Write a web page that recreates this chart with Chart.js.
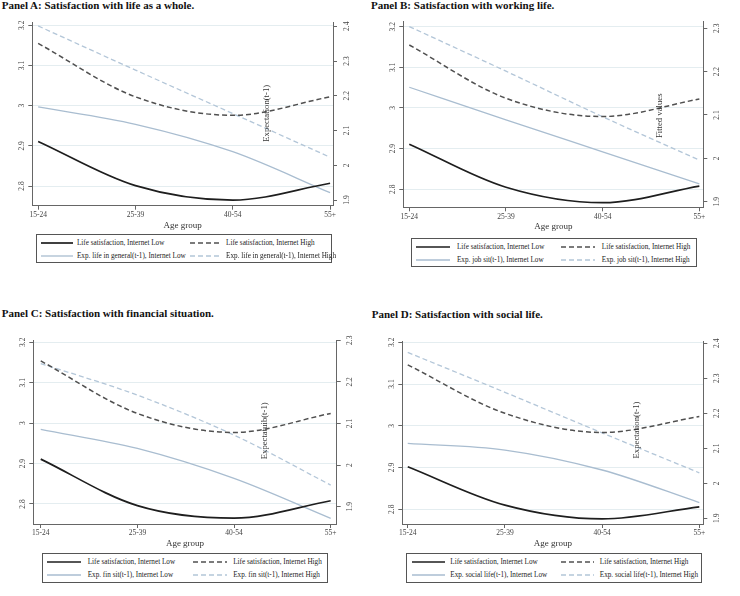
<!DOCTYPE html>
<html>
<head>
<meta charset="utf-8">
<script src="https://cdn.jsdelivr.net/npm/chart.js@4.4.1/dist/chart.umd.min.js"></script>
<style>
  body { margin: 0; background: #fff; width: 740px; height: 596px; position: relative; overflow: hidden;
         font-family: 'Liberation Serif', 'DejaVu Serif', serif; }
  .panel { position: absolute; width: 370px; height: 296px; }
  .panel canvas { position: absolute; left: 0; top: 0; }
  .ttl { position: absolute; font-weight: bold; font-size: 11px; line-height: 11px; white-space: nowrap; color: #111; }
  .lg { position: absolute; border: 1px solid #555; box-sizing: border-box; background: #fff; }
  .lg .it { position: absolute; height: 12px; line-height: 12px; font-size: 7.2px; color: #222; white-space: nowrap; }
  .lg svg { position: absolute; left: 0; top: 3px; }
</style>
</head>
<body>
<script>
// categorias del eje x
const ageGroups = ['15-24', '25-39', '40-54', '55+'];
const ageX = [1, 2, 3, 4];
const leftTicks = [2.8, 2.9, 3, 3.1, 3.2];
const rightTicksAD = [1.9, 2, 2.1, 2.2, 2.3, 2.4];
const rightTicksBC = [1.9, 2, 2.1, 2.2, 2.3];

// Panel A
const lifeLowA = [2.911, 2.801, 2.765, 2.807];
const lifeHighA = [3.155, 3.022, 2.976, 3.022];
const expLowA = [2.168, 2.118, 2.039, 1.921];
const expHighA = [2.401, 2.274, 2.149, 2.023];
// Panel B
const lifeLowB = [2.911, 2.805, 2.767, 2.808];
const lifeHighB = [3.155, 3.024, 2.979, 3.022];
const expLowB = [2.164, 2.089, 2.015, 1.941];
const expHighB = [2.304, 2.201, 2.096, 1.996];
// Panel C
const lifeLowC = [2.911, 2.796, 2.765, 2.808];
const lifeHighC = [3.154, 3.024, 2.977, 3.024];
const expLowC = [2.086, 2.040, 1.968, 1.872];
const expHighC = [2.244, 2.168, 2.072, 1.952];
// Panel D
const lifeLowD = [2.902, 2.810, 2.777, 2.806];
const lifeHighD = [3.146, 3.030, 2.984, 3.022];
const expLowD = [2.114, 2.095, 2.038, 1.945];
const expHighD = [2.374, 2.260, 2.144, 2.030];

const SERIF = "'Liberation Serif', 'DejaVu Serif', serif";
const LW = 22, RW = 22, XH = 28, H = 296;

const lineStyles = [
  { color: '#1e1e1e', width: 1.7, dash: [], axis: 'y' },
  { color: '#505050', width: 1.5, dash: [5, 3], axis: 'y' },
  { color: '#a9bdd0', width: 1.3, dash: [], axis: 'y1' },
  { color: '#b3c6d8', width: 1.3, dash: [5, 3], axis: 'y1' }
];

const panels = [
  { ox: 0, oy: 0, title: 'Panel A: Satisfaction with life as a whole.', titleTop: 0, titleLeft: 1.7,
    series: [lifeLowA, lifeHighA, expLowA, expHighA], exp: 'Exp. life in general(t-1)',
    plot: { l: 32.3, r: 333, t: 22, b: 205.7 }, xr: [0.94, 4.03],
    yl: [2.7511, 3.2082], yr: [1.8836, 2.4124], rTicks: rightTicksAD,
    note: { text: 'Expectation(t-1)', x: 266.7, y: 113.3 },
    legend: { l: 35.7, t: 234.3, w: 296.6, h: 29, c2: 153.6, sw: 32, tx: 40.3 } },
  { ox: 370, oy: 0, title: 'Panel B: Satisfaction with working life.', titleTop: 0, titleLeft: 1,
    series: [lifeLowB, lifeHighB, expLowB, expHighB], exp: 'Exp. job sit(t-1)',
    plot: { l: 33.3, r: 333.3, t: 21.7, b: 207.3 }, xr: [0.938, 4.041],
    yl: [2.7557, 3.2123], yr: [1.8871, 2.3152], rTicks: rightTicksBC,
    note: { text: 'Fitted values', x: 289.3, y: 115.8 },
    legend: { l: 40.7, t: 237.7, w: 286.6, h: 29, c2: 149.3, sw: 34, tx: 45.3 } },
  { ox: 0, oy: 300, title: 'Panel C: Satisfaction with financial situation.', titleTop: 8.3, titleLeft: 1.7,
    series: [lifeLowC, lifeHighC, expLowC, expHighC], exp: 'Exp. fin sit(t-1)',
    plot: { l: 33.3, r: 336.7, t: 40, b: 224 }, xr: [0.923, 4.062],
    yl: [2.7505, 3.2057], yr: [1.8585, 2.3005], rTicks: rightTicksBC,
    note: { text: 'Expectatuib(t-1)', x: 265, y: 130.8 },
    legend: { l: 41.7, t: 253.3, w: 286.6, h: 29.4, c2: 150, sw: 34, tx: 45 } },
  { ox: 370, oy: 300, title: 'Panel D: Satisfaction with social life.', titleTop: 8.8, titleLeft: 1.7,
    series: [lifeLowD, lifeHighD, expLowD, expHighD], exp: 'Exp. social life(t-1)',
    plot: { l: 32.3, r: 333.3, t: 41.7, b: 224 }, xr: [0.944, 4.041],
    yl: [2.7648, 3.2014], yr: [1.8837, 2.4046], rTicks: rightTicksAD,
    note: { text: 'Expectation(t-1)', x: 266.7, y: 130 },
    legend: { l: 36, t: 253.3, w: 295.7, h: 29.4, c2: 154, sw: 33, tx: 43.3 } }
];

// texto vertical dentro del área (título del eje derecho de Stata)
const sideNote = {
  id: 'sideNote',
  afterDatasetsDraw(chart, args, opts) {
    if (!opts.text) return;
    const ctx = chart.ctx;
    ctx.save();
    ctx.translate(opts.x, opts.y);
    ctx.rotate(-Math.PI / 2);
    ctx.font = '8.7px ' + SERIF;
    ctx.fillStyle = '#333';
    ctx.textAlign = 'center';
    ctx.textBaseline = 'middle';
    ctx.fillText(opts.text, 0, 0);
    ctx.restore();
  }
};

function fmt(v) { return String(+v.toFixed(1)); }

function makePanel(p) {
  const wrap = document.createElement('div');
  wrap.className = 'panel';
  wrap.style.left = p.ox + 'px';
  wrap.style.top = p.oy + 'px';
  document.body.appendChild(wrap);

  const ttl = document.createElement('div');
  ttl.className = 'ttl';
  ttl.style.left = p.titleLeft + 'px';
  ttl.style.top = p.titleTop + 'px';
  ttl.textContent = p.title;
  wrap.appendChild(ttl);

  const canvas = document.createElement('canvas');
  canvas.width = 370; canvas.height = H;
  canvas.style.width = '370px'; canvas.style.height = H + 'px';
  wrap.appendChild(canvas);

  const labels = ['Life satisfaction, Internet Low', 'Life satisfaction, Internet High',
                  p.exp + ', Internet Low', p.exp + ', Internet High'];

  const datasets = p.series.map((vals, i) => ({
    label: labels[i],
    data: ageX.map((x, j) => ({ x: x, y: vals[j] })),
    borderColor: lineStyles[i].color,
    borderWidth: lineStyles[i].width,
    borderDash: lineStyles[i].dash,
    yAxisID: lineStyles[i].axis,
    pointRadius: 0,
    fill: false,
    cubicInterpolationMode: 'monotone'
  }));

  const tickFont = { family: SERIF, size: 7.5 };

  const chart = new Chart(canvas, {
    type: 'line',
    data: { datasets: datasets },
    plugins: [sideNote],
    options: {
      responsive: false,
      animation: false,
      devicePixelRatio: 1,
      layout: { padding: { left: p.plot.l - LW, right: 370 - p.plot.r - RW, top: p.plot.t, bottom: H - p.plot.b - XH } },
      plugins: {
        legend: { display: false },
        tooltip: { enabled: false },
        sideNote: p.note
      },
      scales: {
        x: {
          type: 'linear', min: p.xr[0], max: p.xr[1],
          afterBuildTicks: s => { s.ticks = ageX.map(v => ({ value: v })); },
          afterFit: s => { s.height = XH; },
          grid: { drawOnChartArea: false, tickLength: 4, tickColor: '#666' },
          border: { color: '#666' },
          ticks: { autoSkip: false, maxRotation: 0, padding: 1, font: tickFont, color: '#444',
                   callback: v => ageGroups[ageX.indexOf(v)] },
          title: { display: true, text: 'Age group', font: { family: SERIF, size: 9 }, color: '#333',
                   padding: { top: 0, bottom: 3 } }
        },
        y: {
          position: 'left', min: p.yl[0], max: p.yl[1],
          afterBuildTicks: s => { s.ticks = leftTicks.map(v => ({ value: v })); },
          afterFit: s => { s.width = LW; },
          grid: { color: '#e4edf0', tickColor: '#666', tickLength: 4 },
          border: { color: '#666' },
          ticks: { autoSkip: false, minRotation: 90, maxRotation: 90, crossAlign: 'center', padding: 1.5,
                   font: tickFont, color: '#444', callback: fmt }
        },
        y1: {
          position: 'right', min: p.yr[0], max: p.yr[1],
          afterBuildTicks: s => { s.ticks = p.rTicks.map(v => ({ value: v })); },
          afterFit: s => { s.width = RW; },
          grid: { drawOnChartArea: false, tickColor: '#666', tickLength: 4 },
          border: { color: '#666' },
          ticks: { autoSkip: false, minRotation: 90, maxRotation: 90, crossAlign: 'center', padding: 5,
                   font: tickFont, color: '#444', callback: fmt }
        }
      }
    }
  });

  // leyenda en html, con caja y dos columnas
  const lg = document.createElement('div');
  lg.className = 'lg';
  lg.style.left = p.legend.l + 'px';
  lg.style.top = p.legend.t + 'px';
  lg.style.width = p.legend.w + 'px';
  lg.style.height = p.legend.h + 'px';
  chart.data.datasets.forEach((ds, i) => {
    const col = i % 2, row = Math.floor(i / 2);
    const it = document.createElement('div');
    it.className = 'it';
    const x0 = col ? p.legend.c2 : 4.5;
    it.style.left = x0 + 'px';
    it.style.top = (row ? 15 : 2.2) + 'px';
    const dash = ds.borderDash.length ? ' stroke-dasharray="' + ds.borderDash.join(',') + '"' : '';
    it.innerHTML = '<svg width="' + p.legend.sw + '" height="6"><line x1="0" y1="3" x2="' + p.legend.sw +
      '" y2="3" stroke="' + ds.borderColor + '" stroke-width="' + ds.borderWidth + '"' + dash + '/></svg>' +
      '<span style="position:absolute;left:' + (p.legend.tx - 4.5) + 'px;top:0">' + ds.label + '</span>';
    lg.appendChild(it);
  });
  wrap.appendChild(lg);
}

panels.forEach(makePanel);
</script>
</body>
</html>
